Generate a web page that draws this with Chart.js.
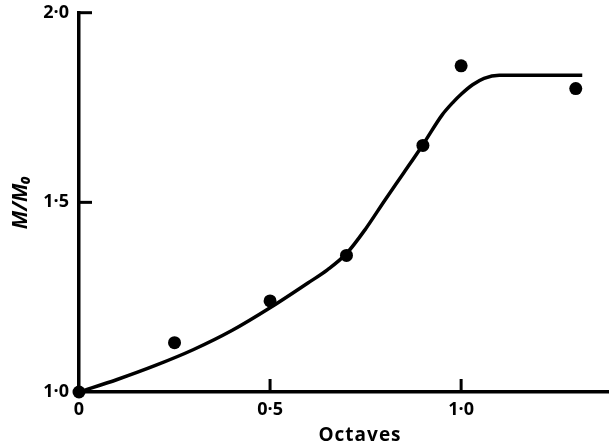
<!DOCTYPE html>
<html>
<head>
<meta charset="utf-8">
<script src="https://cdn.jsdelivr.net/npm/chart.js@4"></script>
<style>
  html, body { margin: 0; padding: 0; background: #fff; overflow: hidden; }
  #wrap { width: 609px; height: 447px; position: relative; }
</style>
</head>
<body>
<div id="wrap"><canvas id="c"></canvas></div>
<script>
// Measured points (octaves vs M/M0)
const octaves = [0, 0.25, 0.5, 0.7, 0.9, 1.0, 1.3];
const ratio   = [1.0, 1.13, 1.24, 1.36, 1.65, 1.86, 1.80];

// Fitted curve
const curveX = [0, 0.1, 0.2, 0.3, 0.4, 0.5, 0.6, 0.65, 0.7, 0.75, 0.8, 0.85, 0.9, 0.95, 0.98, 1.0, 1.03, 1.06, 1.1, 1.2, 1.317];
const curveY = [1.0, 1.033, 1.07, 1.112, 1.162, 1.222, 1.288, 1.322, 1.365, 1.43, 1.505, 1.578, 1.652, 1.73, 1.765, 1.785, 1.81, 1.827, 1.835, 1.835, 1.835];

// Axis ticks
const xTicks = [0, 0.5, 1.0];
const yTicks = [1.0, 1.5, 2.0];
const xTitle = 'Octaves';
const yTitle = 'M/M\u2080';

const fmt = v => (v === 0 ? '0' : v.toFixed(1).replace('.', '\u00B7'));
const FONT = '"Open Sans", Lato, sans-serif';

const noPad = s => { s.paddingTop = 0; s.paddingBottom = 0; s.paddingLeft = 0; s.paddingRight = 0; };

const axisDecor = {
  id: 'axisDecor',
  afterDraw(chart) {
    const { ctx, scales: { x, y }, chartArea } = chart;
    ctx.save();
    ctx.strokeStyle = '#000';
    ctx.lineWidth = 3;
    yTicks.forEach(v => {
      if (v === y.min) return;
      const py = y.getPixelForValue(v);
      ctx.beginPath();
      ctx.moveTo(chartArea.left, py);
      ctx.lineTo(chartArea.left + 13, py);
      ctx.stroke();
    });
    xTicks.forEach(v => {
      if (v === x.min) return;
      const px = x.getPixelForValue(v);
      ctx.beginPath();
      ctx.moveTo(px, chartArea.bottom);
      ctx.lineTo(px, chartArea.bottom - 13);
      ctx.stroke();
    });
    ctx.fillStyle = '#000';
    ctx.font = 'bold 19px ' + FONT;
    try { ctx.letterSpacing = '1px'; } catch (e) {}
    ctx.textAlign = 'center';
    ctx.textBaseline = 'middle';
    ctx.fillText(xTitle, 360, 436);
    ctx.restore();
  }
};

new Chart(document.getElementById('c'), {
  type: 'scatter',
  data: {
    datasets: [
      {
        label: 'points',
        data: octaves.map((v, i) => ({ x: v, y: ratio[i] })),
        backgroundColor: '#000',
        borderColor: '#000',
        pointRadius: 6.5,
        pointBorderWidth: 0,
        clip: false,
        order: 0
      },
      {
        label: 'curve',
        data: curveX.map((v, i) => ({ x: v, y: curveY[i] })),
        showLine: true,
        borderColor: '#000',
        borderWidth: 3.5,
        pointRadius: 0,
        cubicInterpolationMode: 'monotone',
        clip: false,
        order: 1
      }
    ]
  },
  options: {
    responsive: true,
    maintainAspectRatio: false,
    animation: false,
    layout: { autoPadding: false, padding: { top: 12.7, right: 0, left: 0, bottom: 0 } },
    plugins: { legend: { display: false }, tooltip: { enabled: false } },
    scales: {
      x: {
        type: 'linear',
        min: 0,
        max: 1.387,
        afterBuildTicks: s => { s.ticks = xTicks.map(v => ({ value: v })); },
        afterFit: s => { s.height = 55; noPad(s); },
        grid: { display: false, drawTicks: false },
        border: { display: true, color: '#000', width: 3.5 },
        ticks: {
          color: '#000',
          padding: 7,
          maxRotation: 0,
          font: { family: FONT, size: 18, weight: 'bold' },
          callback: v => fmt(v)
        }
      },
      y: {
        type: 'linear',
        min: 1.0,
        max: 2.0,
        afterBuildTicks: s => { s.ticks = yTicks.map(v => ({ value: v })); },
        afterFit: s => { s.width = 79; noPad(s); },
        grid: { display: false, drawTicks: false },
        border: { display: true, color: '#000', width: 3.5 },
        title: {
          display: true,
          text: yTitle,
          color: '#000',
          padding: { top: 8, bottom: 0 },
          font: { family: FONT, size: 21, weight: 'bold', style: 'italic' }
        },
        ticks: {
          color: '#000',
          padding: 10,
          font: { family: FONT, size: 18, weight: 'bold' },
          callback: v => fmt(v)
        }
      }
    }
  },
  plugins: [axisDecor]
});
</script>
</body>
</html>
